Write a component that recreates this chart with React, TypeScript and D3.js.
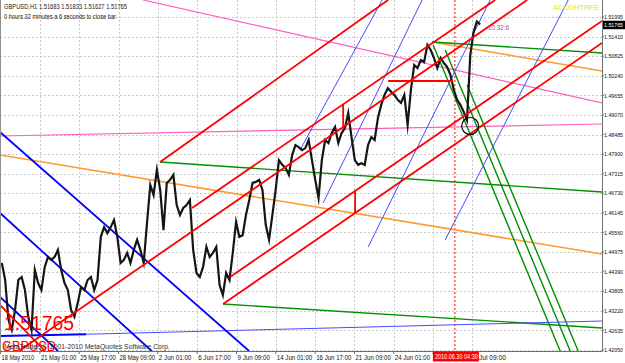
import React from 'react';
import * as d3 from 'd3';

const W = 625;
const H = 363;
const PLOT_R = 602;
const PLOT_B = 351;

// price axis labels
const priceTicks = [1.51995, 1.5141, 1.50825, 1.5024, 1.49655, 1.4907, 1.48485, 1.479, 1.47315, 1.4673, 1.46145, 1.4556, 1.44975, 1.4439, 1.43805, 1.4322, 1.42635, 1.4205];
// time axis (H1 bar index from chart start)
const dateTicks = [1, 65, 129, 193, 257, 321, 385, 449, 513, 577, 641, 705, 769];
const dateLabels = ['18 May 2010', '21 May 01:00', '25 May 17:00', '28 May 09:00', '2 Jun 01:00', '6 Jun 17:00', '9 Jun 09:00', '14 Jun 01:00', '16 Jun 17:00', '21 Jun 09:00', '24 Jun 01:00', '28 Jun 17:00', '1 Jul 09:00'];
const hiddenLabel = '28 Jun 17:00'; // covered by the cursor time box

// GBPUSD H1 price path (sampled)
const closes = [
  1.4465, 1.4414, 1.4295, 1.4265, 1.4324, 1.4414, 1.4423, 1.4384, 1.4304, 1.4265,
  1.4444, 1.4405, 1.4384, 1.4453, 1.4483, 1.4474, 1.4483, 1.4504, 1.4444, 1.4405,
  1.4384, 1.4324, 1.4304, 1.4345, 1.4393, 1.4384, 1.4414, 1.4423, 1.4384, 1.4414,
  1.4543, 1.4572, 1.4554, 1.4572, 1.4593, 1.4543, 1.4465, 1.4474, 1.4495, 1.4465,
  1.4504, 1.4534, 1.4504, 1.4465, 1.4584, 1.4698, 1.4668, 1.4743, 1.4683, 1.4563,
  1.4704, 1.4713, 1.4728, 1.4638, 1.4608, 1.4629, 1.4638, 1.4653, 1.4504, 1.4435,
  1.4423, 1.4453, 1.4513, 1.4483, 1.4495, 1.4513, 1.4399, 1.4369, 1.4435, 1.4414,
  1.4495, 1.4587, 1.4543, 1.4548, 1.4608, 1.4653, 1.4704, 1.4707, 1.4713, 1.4683,
  1.4578, 1.4534, 1.4608, 1.4683, 1.4772, 1.4758, 1.4749, 1.4728, 1.4787, 1.4817,
  1.4811, 1.4802, 1.4808, 1.4832, 1.4772, 1.4713, 1.4659, 1.4772, 1.4832, 1.4823,
  1.4853, 1.4871, 1.4823, 1.4853, 1.4868, 1.4913, 1.4841, 1.4772, 1.4758, 1.4763,
  1.4758, 1.4817, 1.4841, 1.4832, 1.4898, 1.4937, 1.4967, 1.4987, 1.4976, 1.4967,
  1.4952, 1.4943, 1.4967, 1.4877, 1.4982, 1.5056, 1.5047, 1.5071, 1.5065, 1.5116,
  1.5101, 1.5077, 1.5047, 1.5077, 1.5062, 1.505, 1.5026, 1.4982, 1.4952, 1.4937,
  1.4916, 1.4892, 1.5086, 1.5155, 1.5186, 1.5177,
];
const firstBar = 3;
const lastBar = 781.7;

type Seg = [number, number, number, number]; // bar1, price1, bar2, price2
const redLines: Seg[] = [
  [260.6, 1.47665, 631.8, 1.52503],
  [312.7, 1.46291, 806.1, 1.52503],
  [30.9, 1.4202, 858.2, 1.52503],
  [374.5, 1.4423, 980, 1.51876],
  [363.1, 1.43424, 980, 1.51219],
  [0, 1.43394, 73.3, 1.4202],
  [631.8, 1.50084, 737.7, 1.50084],
  [558.6, 1.49388, 558.6, 1.48698],
  [578.1, 1.46799, 578.1, 1.46139],
];
const blueLines: Seg[] = [
  [0, 1.48561, 405.5, 1.4202],
  [0, 1.46142, 246.9, 1.4202],
  [0, 1.43633, 94.5, 1.4202],
  [0, 1.42468, 140, 1.4252],
];
const blueThin: Seg[] = [
  [140, 1.4252, 980, 1.42916],
  [488.5, 1.48023, 622.1, 1.52503],
  [526.0, 1.4644, 687.2, 1.52503],
  [599.3, 1.45126, 797.9, 1.52503],
  [724.7, 1.45335, 925.0, 1.52503],
];
const greenLines: Seg[] = [
  [260.6, 1.47665, 980, 1.46769],
  [363.1, 1.43424, 980, 1.42707],
  [703.5, 1.51248, 980, 1.5092],
  [705.1, 1.51159, 911.9, 1.4202],
  [724.7, 1.5101, 928.2, 1.4202],
  [760.5, 1.49964, 941.2, 1.4202],
];
const orangeLines: Seg[] = [
  [0, 1.47874, 980, 1.44917],
  [703.5, 1.51248, 980, 1.50382],
];
const pinkLines: Seg[] = [
  [232.9, 1.52503, 980, 1.49427],
  [0, 1.48441, 980, 1.488],
];
const cursorBar = 740.5;
const circleBar = 765.4;
const circlePrice = 1.4874;
const lastPrice = 1.51765;

const font = "'Liberation Sans', Arial, sans-serif";

export default function App() {
  const x = d3.scaleLinear().domain([0, 980]).range([0, PLOT_R]);
  const y = d3.scaleLinear().domain([1.4205, 1.51995]).range([350, 17]);
  const step = (lastBar - firstBar) / (closes.length - 1);
  const line = d3
    .line<number>()
    .x((_, i) => x(firstBar + i * step))
    .y((d) => y(d));

  const seg = (s: Seg, color: string, w: number, key: string) => (
    <line key={key} x1={x(s[0])} y1={y(s[1])} x2={x(s[2])} y2={y(s[3])} stroke={color} strokeWidth={w} />
  );
  const boxL = x(cursorBar) - 22;
  const boxR = boxL + 46;

  return (
    <svg width={W} height={H} style={{ position: 'absolute', left: 0, top: 0, background: '#fff' }} fontFamily={font}>
      <defs>
        <clipPath id="plot">
          <rect x={0} y={0} width={PLOT_R} height={PLOT_B} />
        </clipPath>
        <clipPath id="afterBox">
          <rect x={boxR} y={PLOT_B} width={W - boxR} height={H - PLOT_B} />
        </clipPath>
      </defs>
      <rect x={0} y={0} width={W} height={H} fill="#fff" />
      {/* grid */}
      <g stroke="#c8c8c8" strokeWidth={1} strokeDasharray="2,2">
        {priceTicks.map((p) => (
          <line key={p} x1={0} x2={PLOT_R} y1={Math.round(y(p)) + 0.5} y2={Math.round(y(p)) + 0.5} />
        ))}
        {dateTicks.slice(1).map((b) => (
          <line key={b} x1={Math.round(x(b)) + 0.5} x2={Math.round(x(b)) + 0.5} y1={0} y2={PLOT_B} />
        ))}
      </g>
      <g clipPath="url(#plot)">
        <line x1={x(cursorBar)} x2={x(cursorBar)} y1={0} y2={PLOT_B} stroke="#ff0000" strokeWidth={1} strokeDasharray="2,2" />
        {pinkLines.map((s, i) => seg(s, '#ff5fc0', 1.2, 'p' + i))}
        {orangeLines.map((s, i) => seg(s, '#ff9a30', 1.6, 'o' + i))}
        {greenLines.map((s, i) => seg(s, '#009000', 1.4, 'g' + i))}
        {blueThin.map((s, i) => seg(s, '#4a4aff', 1, 'bt' + i))}
        {blueLines.map((s, i) => seg(s, '#0000ff', 1.8, 'b' + i))}
        <path d={line(closes) || ''} fill="none" stroke="#151515" strokeWidth={2.2} strokeLinejoin="miter" strokeMiterlimit={10} />
        {redLines.map((s, i) => seg(s, '#ff0000', 1.8, 'r' + i))}
        <circle cx={x(circleBar)} cy={y(circlePrice)} r={8.5} fill="none" stroke="#000" strokeWidth={1.2} />
        <text x={4} y={330} fontSize={20} fill="#ff0000" textLength={70} lengthAdjust="spacingAndGlyphs">1.51765</text>
        <text x={2} y={350.5} fontSize={14} fill="#ff0000" textLength={54} lengthAdjust="spacingAndGlyphs">GBPUSD</text>
      </g>
      {/* frame */}
      <line x1={0.5} x2={0.5} y1={0} y2={PLOT_B} stroke="#909090" />
      <line x1={PLOT_R + 0.5} x2={PLOT_R + 0.5} y1={0} y2={PLOT_B + 0.5} stroke="#707070" />
      <line x1={0} x2={PLOT_R + 0.5} y1={PLOT_B + 0.5} y2={PLOT_B + 0.5} stroke="#707070" />
      {/* texts */}
      <text x={4} y={9} fontSize={7} fill="#222" textLength={123} lengthAdjust="spacingAndGlyphs">GBPUSD,H1  1.51683 1.51833 1.51627 1.51765</text>
      <text x={4} y={19} fontSize={7} fill="#222" textLength={112} lengthAdjust="spacingAndGlyphs">0 hours 32 minutes a 6 seconds to close bar</text>
      <text x={488} y={30} fontSize={7} fill="#c040c0" textLength={21} lengthAdjust="spacingAndGlyphs">10:32:6</text>
      <text x={553} y={10} fontSize={7} fill="#e8e800" textLength={46} lengthAdjust="spacingAndGlyphs">AC/20HTRFE</text>
      <text x={4} y={348.5} fontSize={7} fill="#333" textLength={166} lengthAdjust="spacingAndGlyphs">MetaTrader, © 2001-2010 MetaQuotes Software Corp.</text>
      {/* price axis */}
      {priceTicks.map((p) => (
        <g key={p}>
          <line x1={PLOT_R} x2={PLOT_R + 2} y1={y(p)} y2={y(p)} stroke="#707070" />
          <text x={604} y={y(p) + 2.2} fontSize={6} fill="#111" textLength={19} lengthAdjust="spacingAndGlyphs">{p.toFixed(5)}</text>
        </g>
      ))}
      <rect x={603} y={y(lastPrice) - 4} width={22} height={8.5} fill="#000" />
      <text x={604} y={y(lastPrice) + 2.2} fontSize={6} fill="#fff" textLength={19} lengthAdjust="spacingAndGlyphs">{lastPrice.toFixed(5)}</text>
      {/* time axis */}
      {dateTicks.map((b, i) => (
        <g key={b}>
          <line x1={x(b)} x2={x(b)} y1={PLOT_B} y2={PLOT_B + 3} stroke="#707070" />
          {dateLabels[i] !== hiddenLabel && (
            <text
              x={x(b) + 1}
              y={359.5}
              fontSize={6.5}
              fill="#111"
              textLength={dateLabels[i].length * 2.95}
              lengthAdjust="spacingAndGlyphs"
              clipPath={x(b) < boxR && x(b) > boxL ? 'url(#afterBox)' : undefined}
            >
              {dateLabels[i]}
            </text>
          )}
        </g>
      ))}
      <rect x={boxL} y={PLOT_B + 0.5} width={46} height={10} fill="#ff0000" />
      <text x={boxL + 2} y={359} fontSize={6.5} fill="#fff" textLength={43} lengthAdjust="spacingAndGlyphs">2010.06.30 04:30</text>
    </svg>
  );
}
